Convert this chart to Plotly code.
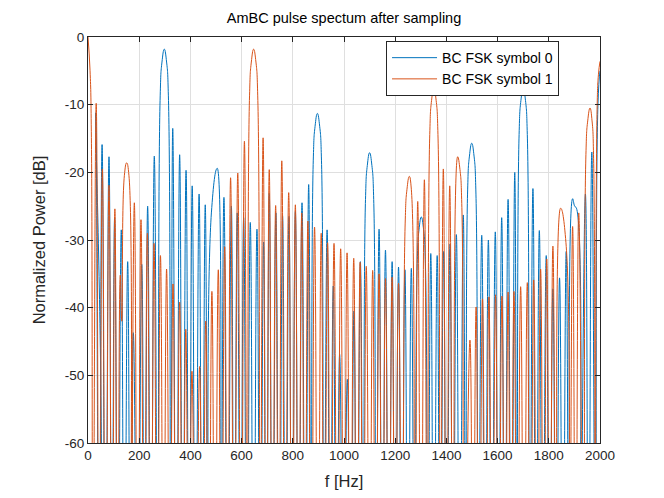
import plotly.graph_objects as go

# level used for the nulls, they fall below the -60 dB floor of the axes
F = -90

# symbol 0 (blue) : peaks and nulls, Hz / dB
sym0_freq = [
    0, 17, 30, 43, 55, 68, 82, 93, 104, 117,
    130, 142, 155, 166, 177, 194, 210, 221, 233, 246,
    259, 273, 282, 289, 298, 307, 314, 323, 331, 345,
    358, 370, 383, 395, 407, 420, 434, 446, 458, 470,
    482, 505, 518, 531, 545, 560, 571, 583, 596, 608,
    621, 634, 647, 660, 673, 686, 697, 708, 721, 734,
    747, 760, 772, 785, 797, 810, 823, 836, 849, 862,
    872, 880, 887, 896, 905, 912, 921, 934, 946, 958,
    971, 983, 998, 1013, 1026, 1039, 1051, 1064, 1076, 1084,
    1091, 1100, 1109, 1116, 1125, 1137, 1150, 1162, 1175, 1188,
    1200, 1213, 1225, 1238, 1250, 1263, 1276, 1286, 1293, 1302,
    1311, 1318, 1327, 1339, 1351, 1364, 1376, 1389, 1401, 1414,
    1426, 1439, 1452, 1466, 1476, 1483, 1490, 1499, 1508, 1515,
    1524, 1538, 1551, 1564, 1577, 1591, 1603, 1616, 1628, 1641,
    1654, 1667, 1676, 1684, 1691, 1700, 1709, 1716, 1725, 1738,
    1750, 1763, 1776, 1790, 1803, 1816, 1829, 1842, 1855, 1868,
    1880, 1893, 1901, 1908, 1920, 1943, 1955, 1968, 1983, 1992,
    2000,
]
sym0_db = [
    F, F, -11.2, F, -15.9, F, -17.7, F, -26.7, F,
    -28.5, F, -33.2, F, -43.7, F, -33.6, F, -25.0, F,
    -17.6, F, -8.7, -3.7, -1.8, -3.7, -8.7, F, -13.5, F,
    -17.4, F, -19.7, F, -22.0, F, -23.2, F, -24.8, F,
    -26.0, -19.4, F, -23.7, F, -25.0, F, -26.0, F, -26.7,
    F, -27.4, F, -28.4, F, -30.3, F, -23.1, F, -26.0,
    F, -26.4, F, -26.5, F, -25.8, F, -24.5, F, -21.8,
    F, -18.2, -13.2, -11.3, -13.2, -18.2, F, -28.5, F, -36.8,
    F, -46.9, F, -50.6, F, -40.5, F, -33.2, F, -24.0,
    -19.0, -17.1, -19.0, -24.0, F, -28.4, F, -31.5, F, -33.2,
    F, -34.0, F, -34.4, F, -34.2, F, -33.5, -28.5, -26.6,
    -28.5, -33.5, F, -32.0, F, -32.3, F, -31.7, F, -30.6,
    F, -29.2, F, -26.3, F, -22.6, -17.6, -15.7, -17.6, -22.6,
    F, -29.3, F, -30.0, F, -28.8, F, -26.7, F, -24.0,
    F, -20.0, F, -14.4, -9.4, -7.5, -9.4, -14.4, F, -22.4,
    F, -28.6, F, -32.3, F, -37.2, F, -35.6, F, -31.7,
    F, -23.9, -25.0, -25.3, F, -23.2, F, -17.0, F, -10.0,
    -5.0,
]

# symbol 1 (orange)
sym1_freq = [
    0, 8, 13, 19, 32, 44, 56, 69, 82, 94,
    105, 116, 126, 132, 142, 151, 160, 167, 181, 194,
    207, 219, 232, 245, 258, 270, 283, 295, 307, 320,
    332, 345, 358, 370, 382, 394, 406, 421, 436, 448,
    460, 472, 484, 496, 509, 521, 534, 545, 557, 571,
    585, 598, 611, 623, 631, 638, 647, 656, 663, 672,
    684, 696, 708, 720, 733, 745, 757, 770, 784, 797,
    810, 822, 835, 847, 859, 872, 885, 898, 911, 923,
    936, 948, 961, 974, 987, 1000, 1012, 1025, 1038, 1050,
    1063, 1075, 1087, 1100, 1112, 1124, 1137, 1150, 1162, 1175,
    1188, 1200, 1213, 1228, 1239, 1246, 1255, 1263, 1276, 1288,
    1301, 1314, 1326, 1335, 1342, 1351, 1360, 1367, 1376, 1388,
    1400, 1413, 1427, 1444, 1453, 1460, 1470, 1492, 1504, 1516,
    1528, 1541, 1553, 1566, 1579, 1592, 1604, 1617, 1629, 1641,
    1652, 1664, 1677, 1690, 1703, 1716, 1728, 1741, 1754, 1768,
    1780, 1792, 1804, 1816, 1830, 1846, 1867, 1880, 1893, 1905,
    1917, 1936, 1945, 1952, 1961, 1969, 1975, 1981, 1989, 1994,
    2000,
]
sym1_db = [
    0.0, -5.0, -14.0, F, -9.8, F, -19.5, F, -21.9, F,
    -25.4, F, -35.2, -42.0, -20.5, -18.6, -20.5, F, -24.5, F,
    -27.0, F, -29.0, F, -30.5, F, -32.3, F, -34.3, F,
    -36.5, F, -39.2, F, -43.2, F, -49.4, F, -48.7, F,
    -42.0, F, -37.6, F, -34.4, F, -31.0, F, -20.8, F,
    -20.1, F, -15.4, F, -8.7, -3.7, -1.8, -3.7, -8.7, F,
    -14.9, F, -19.6, F, -24.9, F, -18.3, F, -23.0, F,
    -24.8, F, -26.0, F, -27.2, F, -28.1, F, -29.0, F,
    -30.4, F, -30.5, F, -31.3, F, -31.9, F, -32.7, F,
    -33.3, F, -33.9, F, -34.5, F, -35.0, F, -35.7, F,
    -35.5, F, -36.4, F, -27.5, -22.5, -20.6, -22.5, F, -24.3,
    F, -21.1, F, -14.4, -9.4, -7.5, -9.4, -14.4, F, -19.5,
    F, -22.0, F, -17.7, -19.6, -24.6, F, -44.8, F, -39.9,
    F, -38.7, F, -38.4, F, -38.1, F, -38.3, F, -37.7,
    F, -37.6, F, -36.9, F, -36.3, F, -35.9, F, -34.3,
    F, -32.8, F, -30.9, F, -25.3, -30.4, F, -28.0, F,
    -26.0, F, -17.4, -12.4, -10.5, -12.4, -18.0, F, -10.0, -5.5,
    -3.6,
]

series_names = ['BC FSK symbol 0', 'BC FSK symbol 1']
x_ticks = list(range(0, 2001, 200))
y_ticks = list(range(-60, 1, 10))

assert len(sym0_freq) == len(sym0_db)
assert len(sym1_freq) == len(sym1_db)

ink = '#262626'
grid = '#dfdfdf'
font = 'Liberation Sans, Arial, sans-serif'

fig = go.Figure()
for fx, fy, name, col in [(sym0_freq, sym0_db, series_names[0], '#0072BD'),
                          (sym1_freq, sym1_db, series_names[1], '#D95319')]:
    fig.add_trace(go.Scatter(
        x=fx, y=fy, name=name, mode='lines',
        line=dict(color=col, width=1, shape='spline', smoothing=1.3),
    ))

axis_common = dict(
    showline=True, linecolor=ink, linewidth=1, mirror='ticks',
    ticks='inside', ticklen=5, tickcolor=ink, tickwidth=1,
    showgrid=True, gridcolor=grid, gridwidth=1, zeroline=False,
    tickfont=dict(size=13.5, color=ink, family=font),
    automargin=False,
)

# the page has an 8 px body margin, so the plot box is moved up/left by 8 px
fig.update_layout(
    width=664, height=498,
    paper_bgcolor='white', plot_bgcolor='white',
    margin=dict(l=80, r=72, t=29, b=63),
    font=dict(family=font, color=ink),
    title=dict(text='AmBC pulse spectum after sampling',
               font=dict(size=14.5, color='black'),
               x=0.5, xref='paper', xanchor='center',
               y=1 - 10 / 498, yref='container', yanchor='middle'),
    xaxis=dict(range=[0, 2000], tickvals=x_ticks, ticktext=[str(v) for v in x_ticks],
               title=dict(text='f [Hz]', font=dict(size=16.5, color=ink), standoff=13),
               **axis_common),
    yaxis=dict(range=[-60, 0], tickvals=y_ticks, ticktext=[str(v) for v in y_ticks],
               title=dict(text='Normalized Power [dB]', font=dict(size=16.5, color=ink), standoff=15),
               **axis_common),
    legend=dict(x=0.92, xanchor='right', y=0.99, yanchor='top',
                bgcolor='white', bordercolor=ink, borderwidth=1, itemwidth=45,
                font=dict(size=14, color='black', family=font)),
    showlegend=True,
)

fig.write_html('out.html')
